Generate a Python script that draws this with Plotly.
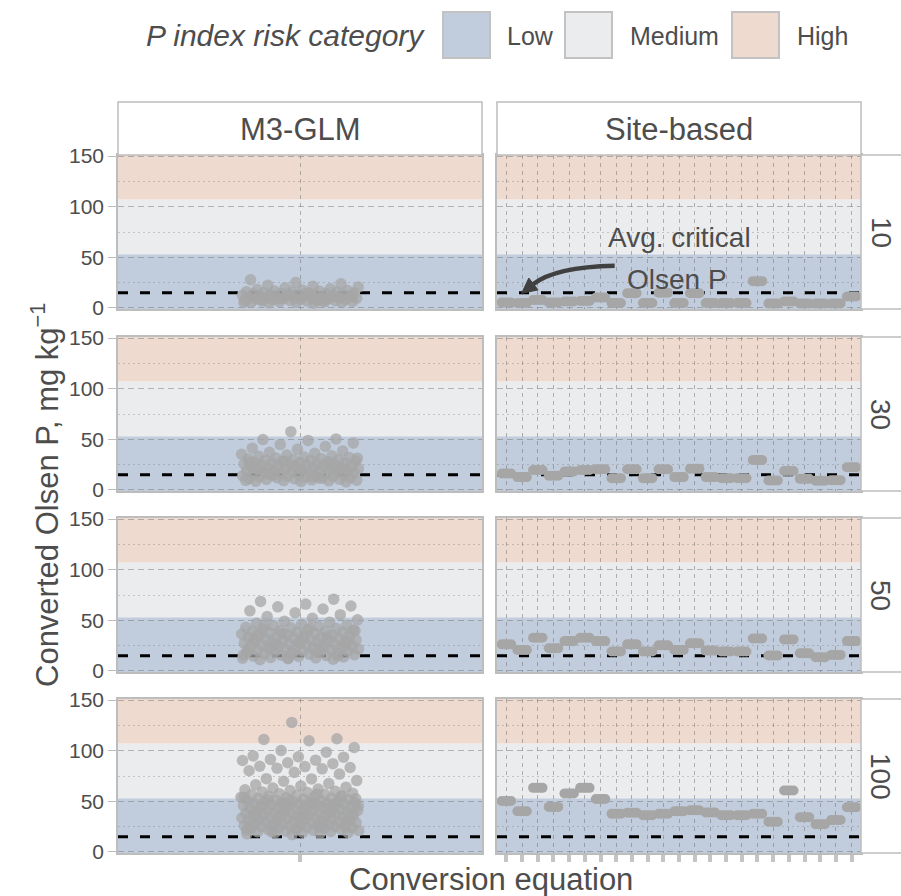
import math
import plotly.graph_objects as go

# ---------------- data ----------------
FACET_ROWS = ["10", "30", "50", "100"]
FACET_COLS = ["M3-GLM", "Site-based"]
RISK_CATEGORIES = ["Low", "Medium", "High"]
RISK_LIMITS = [53, 107]          # Low < 53 <= Medium < 107 <= High
AVG_CRITICAL_OLSEN_P = 15
N_SITE_EQUATIONS = 23
Y_TICKS = [0, 50, 100, 150]
Y_MINOR = [25, 75, 125]

# M3-GLM converted values (one jittered cloud per facet row)
GLM_10 = [4.8, 5.1, 5.3, 5.6, 5.8, 6.1, 6.3, 6.5, 6.8, 7.0, 7.2, 7.5, 7.7, 7.9, 8.2, 8.4, 8.6,
          8.9, 9.1, 9.3, 9.6, 9.8, 10.0, 10.3, 10.5, 10.7, 11.0, 11.2, 11.4, 11.7, 11.9, 12.2,
          12.4, 12.6, 12.9, 13.1, 13.4, 13.6, 13.9, 14.1, 14.4, 14.7, 14.9, 15.2, 15.5, 15.8,
          16.1, 16.5, 16.8, 17.2, 17.7, 18.3, 19.0, 19.9, 20.6, 21.5, 22.4, 23.8, 25.1, 27.9,
          6.7, 9.4, 12.0, 14.3, 8.0, 10.9, 13.3, 5.5, 7.3, 11.5]
GLM_30 = [7.9, 8.3, 8.6, 9.0, 9.3, 9.7, 10.0, 10.3, 10.7, 11.0, 11.4, 11.7, 12.0, 12.4, 12.7,
          13.1, 13.4, 13.7, 14.1, 14.4, 14.8, 15.1, 15.4, 15.8, 16.1, 16.5, 16.8, 17.1, 17.5,
          17.8, 18.2, 18.5, 18.8, 19.2, 19.5, 19.9, 20.2, 20.5, 20.9, 21.2, 21.6, 21.9, 22.2,
          22.6, 22.9, 23.3, 23.6, 23.9, 24.3, 24.6, 25.0, 25.3, 25.7, 26.0, 26.4, 26.7, 27.1,
          27.5, 27.8, 28.2, 28.6, 29.0, 29.4, 29.8, 30.2, 30.7, 31.1, 31.6, 32.1, 32.6, 33.2,
          33.8, 34.5, 35.3, 36.2, 37.3, 38.6, 40.1, 41.3, 42.9, 44.8, 46.5, 48.9, 49.8, 50.4, 57.6,
          9.5, 11.8, 14.6, 17.3, 19.8, 22.7, 25.5, 28.3, 31.4, 13.3, 16.7, 21.0, 24.0, 27.3]
GLM_50 = [11.2, 11.7, 12.1, 12.6, 13.0, 13.4, 13.9, 14.3, 14.7, 15.2, 15.6, 16.0, 16.5, 16.9,
          17.3, 17.8, 18.2, 18.6, 19.1, 19.5, 19.9, 20.4, 20.8, 21.2, 21.7, 22.1, 22.5, 23.0,
          23.4, 23.8, 24.3, 24.7, 25.1, 25.6, 26.0, 26.4, 26.9, 27.3, 27.7, 28.2, 28.6, 29.0,
          29.5, 29.9, 30.3, 30.8, 31.2, 31.6, 32.1, 32.5, 33.0, 33.4, 33.8, 34.3, 34.7, 35.2,
          35.6, 36.1, 36.5, 37.0, 37.5, 37.9, 38.4, 38.9, 39.4, 39.9, 40.4, 40.9, 41.5, 42.0,
          42.6, 43.2, 43.9, 44.6, 45.3, 46.1, 47.0, 48.0, 49.2, 50.5, 52.1, 53.8, 55.6, 57.5,
          59.4, 61.2, 63.3, 64.1, 66.0, 68.7, 70.9,
          12.8, 15.9, 18.9, 21.9, 24.9, 27.6, 30.6, 33.6, 36.8, 39.6, 42.3, 45.0, 14.5, 17.6,
          20.6, 23.7, 26.6, 29.7, 32.8, 35.9]
GLM_100 = [17.2, 17.9, 18.3, 18.8, 19.1, 19.6, 20.0, 20.3, 20.7, 21.2, 21.4, 21.9, 22.3, 22.6,
           23.0, 23.5, 23.8, 24.1, 24.6, 24.9, 25.3, 25.6, 26.0, 26.4, 26.7, 27.1, 27.4, 27.8,
           28.2, 28.5, 28.9, 29.2, 29.6, 30.0, 30.3, 30.7, 31.0, 31.4, 31.7, 32.1, 32.5, 32.8,
           33.2, 33.5, 33.9, 34.2, 34.6, 35.0, 35.3, 35.7, 36.0, 36.4, 36.8, 37.1, 37.5, 37.8,
           38.2, 38.5, 38.9, 39.3, 39.6, 40.0, 40.3, 40.7, 41.1, 41.4, 41.8, 42.1, 42.5, 42.9,
           43.2, 43.6, 43.9, 44.3, 44.7, 45.0, 45.4, 45.8, 46.1, 46.5, 46.9, 47.2, 47.6, 48.0,
           48.4, 48.7, 49.1, 49.5, 49.9, 50.3, 50.6, 51.0, 51.4, 51.8, 52.2, 52.7, 53.1, 53.5,
           54.0, 54.4, 54.9, 55.4, 55.9, 56.4, 56.9, 57.5, 58.0, 58.6, 59.3, 59.9, 60.6, 61.4,
           62.2, 63.1, 64.0, 65.2, 66.3, 67.5, 69.8, 70.5, 72.1, 72.4, 76.9, 78.6, 80.2, 82.1,
           82.7, 83.4, 84.3, 84.6, 87.2, 88.1, 90.3, 90.6, 91.4, 93.6, 93.9, 94.8, 98.5, 100.2,
           103.1, 109.8, 111.0, 111.8, 127.9,
           21.7, 24.4, 27.9, 30.9, 33.7, 36.7, 39.1, 42.7, 45.6, 48.2, 51.6, 54.7, 22.9, 26.2,
           29.9, 34.4, 37.3, 41.6, 44.0, 47.4, 50.8, 53.8, 57.2, 19.9, 25.1, 31.9, 38.7, 43.1,
           46.8, 52.5]

# Site-based converted values, one per conversion equation (23 equations)
SITE_10 = [5.5, 5.0, 7.8, 5.5, 6.5, 7.0, 10.4, 5.0, 14.6, 5.0, 15.0, 5.0, 14.5, 5.0, 5.0, 5.0,
           26.5, 4.5, 6.5, 4.5, 4.5, 4.5, 11.3]
SITE_30 = [16.3, 12.7, 19.8, 14.0, 18.2, 19.8, 20.4, 11.7, 20.4, 11.7, 20.4, 12.7, 21.0, 12.7,
           11.7, 11.7, 29.5, 9.4, 18.8, 11.0, 9.1, 9.7, 22.4]
SITE_50 = [26.3, 20.8, 32.8, 22.4, 29.5, 32.8, 29.5, 19.2, 26.3, 19.2, 25.3, 20.8, 27.3, 20.1,
           19.2, 19.2, 32.1, 15.3, 31.2, 17.5, 13.6, 15.9, 29.5]
SITE_100 = [50.3, 40.2, 63.3, 44.5, 57.7, 63.3, 52.3, 37.7, 38.7, 36.3, 37.7, 40.2, 41.2, 39.0,
            36.3, 36.3, 37.7, 29.9, 60.7, 34.4, 27.3, 31.5, 44.1]

GLM_DATA = [GLM_10, GLM_30, GLM_50, GLM_100]
SITE_DATA = [SITE_10, SITE_30, SITE_50, SITE_100]

# ---------------- style ----------------
W, H = 901, 896
FONT = "Liberation Sans, Arial, sans-serif"
TXT = "#4D4D4D"
BORDER = "#BDBDBD"
BAND_COLORS = ["#C1CDDD", "#EBECEE", "#EFDAD0"]
POINT = "#A6A6A6"
Y_RANGE = [-1, 151]
COL_PX = [(118, 482), (497, 861)]
ROW_PX = [(155, 309), (337, 491), (518, 672), (699, 853)]
X_RANGES = [[0.4, 1.6], [0.4, N_SITE_EQUATIONS + 0.6]]
JITTER_HALF_WIDTH = 0.195
GOLDEN = 0.6180339887


def px_x(p):
    return p / W


def px_y(p):
    return 1 - p / H


def jitter(i, seed):
    # deterministic, evenly spread horizontal jitter in [-1, 1] (like geom_jitter's width)
    v = (i + 1) * GOLDEN + seed * 0.2718
    return 2 * (v - math.floor(v)) - 1


fig = go.Figure()
layout_axes = {}
shapes = []
annotations = []

for r in range(len(FACET_ROWS)):
    for c in range(len(FACET_COLS)):
        k = r * 2 + c + 1
        xs = "x" if k == 1 else f"x{k}"
        ys = "y" if k == 1 else f"y{k}"
        xkey = "xaxis" if k == 1 else f"xaxis{k}"
        ykey = "yaxis" if k == 1 else f"yaxis{k}"
        x_range = X_RANGES[c]
        cats = [1] if c == 0 else list(range(1, N_SITE_EQUATIONS + 1))
        bottom = r == len(FACET_ROWS) - 1
        left = c == 0

        layout_axes[xkey] = dict(
            domain=[px_x(COL_PX[c][0]), px_x(COL_PX[c][1])], anchor=ys, range=x_range,
            tickvals=cats, showticklabels=False,
            ticks="outside" if bottom else "", ticklen=7, tickwidth=4, tickcolor="#C4C4C4",
            showgrid=True, gridcolor="rgba(120,120,120,0.55)", griddash="4px,4px", gridwidth=1,
            showline=True, mirror=True, linecolor=BORDER, linewidth=1.5, zeroline=False,
            fixedrange=True, automargin=False,
        )
        layout_axes[ykey] = dict(
            domain=[px_y(ROW_PX[r][1]), px_y(ROW_PX[r][0])], anchor=xs, range=Y_RANGE,
            tickvals=Y_TICKS, showticklabels=left,
            tickfont=dict(size=21, color=TXT, family=FONT),
            ticks="outside" if left else "", ticklen=8, tickwidth=1.2, tickcolor=BORDER,
            showgrid=True, gridcolor="rgba(120,120,120,0.5)", griddash="6px,4px", gridwidth=1,
            minor=dict(tickvals=Y_MINOR, showgrid=True, gridcolor="rgba(120,120,120,0.35)",
                       griddash="2px,3px", gridwidth=1, ticks=""),
            showline=True, mirror=True, linecolor=BORDER, linewidth=1.5, zeroline=False,
            fixedrange=True, automargin=False,
        )

        # risk bands
        edges = [Y_RANGE[0]] + RISK_LIMITS + [Y_RANGE[1]]
        for b in range(len(RISK_CATEGORIES)):
            shapes.append(dict(type="rect", xref=f"{xs} domain", yref=ys, x0=0, x1=1,
                               y0=edges[b], y1=edges[b + 1], fillcolor=BAND_COLORS[b],
                               line=dict(width=0), layer="below"))

        # avg critical Olsen P line
        fig.add_trace(go.Scatter(x=x_range, y=[AVG_CRITICAL_OLSEN_P] * 2, mode="lines",
                                 line=dict(color="black", width=3, dash="10px,12px"),
                                 xaxis=xs, yaxis=ys, showlegend=False, hoverinfo="skip"))

        if c == 0:
            vals = GLM_DATA[r]
            jx = [1 + JITTER_HALF_WIDTH * jitter(i, r) for i in range(len(vals))]
            fig.add_trace(go.Scatter(x=jx, y=vals, mode="markers",
                                     marker=dict(color=POINT, size=11.5, opacity=0.75,
                                                 line=dict(width=0)),
                                     xaxis=xs, yaxis=ys, showlegend=False))
        else:
            vals = SITE_DATA[r]
            offsets = [-0.3, -0.1, 0.1, 0.3]
            px_, py_ = [], []
            for j, v in enumerate(vals):
                for o in offsets:
                    px_.append(j + 1 + o)
                    py_.append(v)
            fig.add_trace(go.Scatter(x=px_, y=py_, mode="markers",
                                     marker=dict(color=POINT, size=10, opacity=1,
                                                 line=dict(width=0)),
                                     xaxis=xs, yaxis=ys, showlegend=False))

# strips (top)
for c, name in enumerate(FACET_COLS):
    shapes.append(dict(type="rect", xref="paper", yref="paper",
                       x0=px_x(COL_PX[c][0]), x1=px_x(COL_PX[c][1]),
                       y0=px_y(155), y1=px_y(102), fillcolor="white",
                       line=dict(color=BORDER, width=1.5)))
    annotations.append(dict(text=name, xref="paper", yref="paper",
                            x=px_x((COL_PX[c][0] + COL_PX[c][1]) / 2), y=px_y(129),
                            xanchor="center", yanchor="middle",
                            showarrow=False, font=dict(size=31, color=TXT, family=FONT)))
# strips (right)
for r, name in enumerate(FACET_ROWS):
    shapes.append(dict(type="rect", xref="paper", yref="paper",
                       x0=px_x(861), x1=px_x(910),
                       y0=px_y(ROW_PX[r][1]), y1=px_y(ROW_PX[r][0]), fillcolor="white",
                       line=dict(color=BORDER, width=1.5)))
    annotations.append(dict(text=name, xref="paper", yref="paper", textangle=90,
                            x=px_x(881), y=px_y((ROW_PX[r][0] + ROW_PX[r][1]) / 2),
                            xanchor="center", yanchor="middle",
                            showarrow=False, font=dict(size=28, color=TXT, family=FONT)))

# legend (manual)
annotations.append(dict(text="<i>P index risk category</i>", xref="paper", yref="paper",
                        x=px_x(427), y=px_y(36), xanchor="right", yanchor="middle",
                        showarrow=False, font=dict(size=30, color=TXT, family=FONT)))
swatch_x = [443, 565, 732]
label_x = [505, 628, 795]
for b, cat in enumerate(RISK_CATEGORIES):
    shapes.append(dict(type="rect", xref="paper", yref="paper",
                       x0=px_x(swatch_x[b]), x1=px_x(swatch_x[b] + 47),
                       y0=px_y(58), y1=px_y(12), fillcolor=BAND_COLORS[b],
                       line=dict(color="#C2C2C2", width=2)))
    annotations.append(dict(text=cat, xref="paper", yref="paper", x=px_x(label_x[b]),
                            y=px_y(36), xanchor="left", yanchor="middle", showarrow=False,
                            font=dict(size=25, color=TXT, family=FONT)))

# axis titles
annotations.append(dict(text="Converted Olsen P, mg kg<sup>−1</sup>", xref="paper", yref="paper",
                        x=px_x(45), y=px_y(495), textangle=-90, xanchor="center",
                        yanchor="middle", showarrow=False,
                        font=dict(size=31, color=TXT, family=FONT)))
annotations.append(dict(text="Conversion equation", xref="paper", yref="paper",
                        x=px_x(491), y=px_y(879), xanchor="center", yanchor="middle",
                        showarrow=False, font=dict(size=31, color=TXT, family=FONT)))

# "Avg. critical Olsen P" callout in the Site-based / 10 panel
annotations.append(dict(text="Avg. critical", xref="x2", yref="y2", x=12, y=70,
                        xanchor="center", yanchor="middle",
                        showarrow=False, font=dict(size=28, color=TXT, family=FONT)))
annotations.append(dict(text="Olsen P", xref="x2", yref="y2", x=11.9, y=28.6,
                        xanchor="center", yanchor="middle",
                        showarrow=False, font=dict(size=28, color=TXT, family=FONT)))

# curved arrow (quadratic curve + triangular head), built in the panel's data space
kx = (COL_PX[1][1] - COL_PX[1][0]) / (X_RANGES[1][1] - X_RANGES[1][0])
ky = (ROW_PX[0][1] - ROW_PX[0][0]) / (Y_RANGE[1] - Y_RANGE[0])
sx, sy = 7.9, 41.8
cx, cy = 4.1, 40.5
ex, ey = 1.97, 14.5
dxp, dyp = (ex - cx) * kx, (ey - cy) * ky
nrm = math.hypot(dxp, dyp)
ux, uy = dxp / nrm, dyp / nrm
head_len, head_hw = 15, 7.5
bxp, byp = -ux * head_len, -uy * head_len
bx, by = ex + bxp / kx, ey + byp / ky
p1 = (bx + (-uy * head_hw) / kx, by + (ux * head_hw) / ky)
p2 = (bx - (-uy * head_hw) / kx, by - (ux * head_hw) / ky)
shapes.append(dict(type="path", xref="x2", yref="y2",
                   path=f"M {sx},{sy} Q {cx},{cy} {bx},{by}",
                   line=dict(color="#404040", width=4.5)))
shapes.append(dict(type="path", xref="x2", yref="y2",
                   path=f"M {ex},{ey} L {p1[0]},{p1[1]} L {p2[0]},{p2[1]} Z",
                   fillcolor="#404040", line=dict(color="#404040", width=1)))

fig.update_layout(
    width=W, height=H, autosize=False,
    margin=dict(l=0, r=0, t=0, b=0, pad=0, autoexpand=False),
    paper_bgcolor="white", plot_bgcolor="white",
    showlegend=False, shapes=shapes, annotations=annotations,
    font=dict(family=FONT, color=TXT),
    **layout_axes,
)

fig.write_html("out.html")
